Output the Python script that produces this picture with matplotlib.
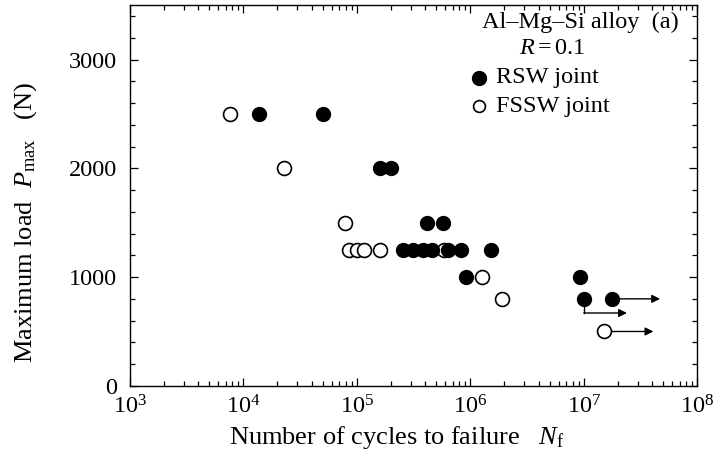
import numpy as np
import matplotlib.pyplot as plt
from matplotlib.ticker import MultipleLocator, LogLocator, NullFormatter

plt.rcParams['font.family'] = ['Liberation Serif', 'DejaVu Serif']
plt.rcParams['mathtext.fontset'] = 'custom'
plt.rcParams['mathtext.rm'] = 'Liberation Serif'
plt.rcParams['mathtext.it'] = 'Liberation Serif:italic'

# RSW joint (filled)
rsw_n = [1.38e4, 5.0e4, 1.6e5, 2.0e5, 4.16e5, 5.75e5,
         2.55e5, 3.13e5, 3.84e5, 4.6e5, 6.37e5, 8.3e5, 1.52e6,
         9.2e5, 9.3e6, 1.0e7, 1.77e7]
rsw_p = [2500, 2500, 2000, 2000, 1500, 1500,
         1250, 1250, 1250, 1250, 1250, 1250, 1250,
         1000, 1000, 800, 800]

# FSSW joint (open)
fssw_n = [7.6e3, 2.3e4, 7.9e4, 8.5e4, 1.0e5, 1.16e5, 1.6e5, 5.9e5, 1.26e6, 1.9e6, 1.5e7]
fssw_p = [2500, 2000, 1500, 1250, 1250, 1250, 1250, 1250, 1000, 800, 500]

# run-out arrows: start (N, P), bend load, end N
runout_start_n = [1.0e7, 1.77e7, 1.5e7]
runout_start_p = [800, 800, 500]
runout_bend_p = [670, 800, 500]
runout_end_n = [2.4e7, 4.7e7, 4.1e7]

fig = plt.figure(figsize=(7.13, 4.70), dpi=100)
ax = fig.add_axes([0.182, 0.179, 0.796, 0.810])

# arrows first so markers sit on top
for n0, p0, pb, n1 in zip(runout_start_n, runout_start_p, runout_bend_p, runout_end_n):
    if pb != p0:
        ax.plot([n0, n0], [p0, pb], color='black', lw=1.0, zorder=2)
    ax.annotate('', xy=(n1, pb), xytext=(n0, pb),
                arrowprops=dict(arrowstyle='-|>', color='black', lw=1.0,
                                mutation_scale=12, shrinkA=0, shrinkB=0), zorder=2)

ax.plot(fssw_n, fssw_p, 'o', ms=10, mfc='white', mec='black', mew=1.2, zorder=3)
ax.plot(rsw_n, rsw_p, 'o', ms=10, mfc='black', mec='black', zorder=4)

ax.set_xscale('log')
ax.set_xlim(1e3, 1e8)
ax.set_ylim(0, 3500)
ax.set_yticks([0, 1000, 2000, 3000])
ax.yaxis.set_minor_locator(MultipleLocator(200))
ax.xaxis.set_minor_locator(LogLocator(base=10, subs=np.arange(2, 10)))
ax.xaxis.set_minor_formatter(NullFormatter())

ax.tick_params(which='both', direction='in', top=True, right=True, labelsize=17.5, width=0.9)
ax.tick_params(which='major', length=6, pad=9)
ax.tick_params(which='minor', length=3.5)
ax.tick_params(axis='x', which='major', pad=7)
for s in ax.spines.values():
    s.set_linewidth(1.0)

ax.set_xlabel(r'Number of cycles to failure   $N_{\mathrm{f}}$', fontsize=19)
ax.set_ylabel(r'Maximum load  $P_{\mathrm{max}}$   (N)', fontsize=19)
ax.xaxis.set_label_coords(0.47, -0.10)
ax.yaxis.set_label_coords(-0.16, 0.43)

ax.text(0.968, 0.955, 'Al–Mg–Si alloy  (a)', transform=ax.transAxes, ha='right', va='center', fontsize=17.5)
ax.text(0.745, 0.885, r'$R = 0.1$', transform=ax.transAxes, ha='center', va='center', fontsize=17.5)
ax.plot([0.615], [0.81], 'o', ms=10, mfc='black', mec='black', transform=ax.transAxes, clip_on=False)
ax.text(0.645, 0.81, 'RSW joint', transform=ax.transAxes, ha='left', va='center', fontsize=17.5)
ax.plot([0.615], [0.735], 'o', ms=8.5, mfc='white', mec='black', mew=1.2, transform=ax.transAxes, clip_on=False)
ax.text(0.645, 0.735, 'FSSW joint', transform=ax.transAxes, ha='left', va='center', fontsize=17.5)

fig.savefig('out.png', dpi=100)
